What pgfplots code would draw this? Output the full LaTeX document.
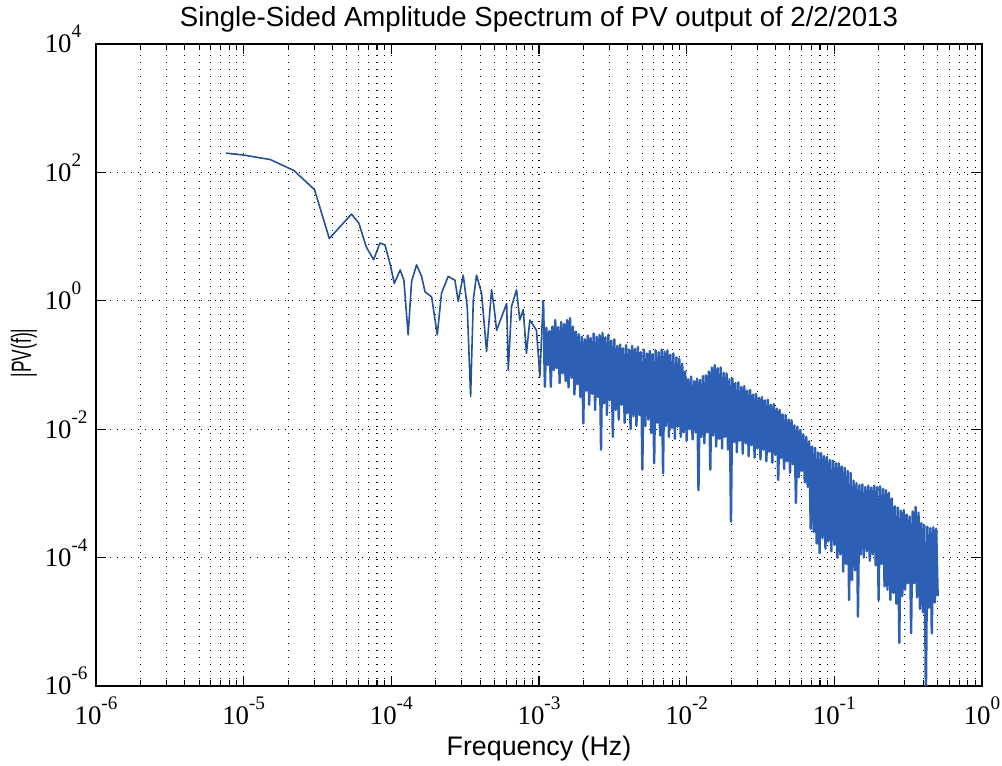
\documentclass[border=0pt]{standalone}
\usepackage{fontspec}
\setmainfont{Liberation Serif}
\newfontfamily\sansf{Liberation Sans}
\usepackage{graphicx}
\usepackage{pgfplots}
\pgfplotsset{compat=1.18}
\definecolor{specblue}{RGB}{45,95,180}
\newcommand{\xe}[1]{10\raisebox{7.5pt}{\fontsize{9.6}{10}\selectfont #1}}
\newcommand{\ye}[1]{10\rlap{\raisebox{7.5pt}{\fontsize{9.6}{10}\selectfont #1}}}
\pgfplotstableread{
lx ly
-5.12 2.30
-5.00 2.27
-4.82 2.20
-4.66 2.03
-4.52 1.73
-4.42 0.97
-4.27 1.35
-4.22 1.21
-4.17 0.84
-4.12 0.64
-4.077 0.90
-4.043 0.87
-4.009 0.58
-3.98 0.27
-3.94 0.48
-3.915 0.32
-3.886 -0.53
-3.863 0.30
-3.829 0.56
-3.795 0.38
-3.772 0.14
-3.727 0.06
-3.689 -0.53
-3.66 0.12
-3.615 0.38
-3.569 0.32
-3.547 -0.01
-3.513 0.40
-3.486 -0.09
-3.463 -1.49
-3.445 0.01
-3.423 0.40
-3.389 0.12
-3.355 -0.79
-3.321 0.17
-3.305 -0.09
-3.287 -0.46
-3.253 -0.25
-3.219 -0.04
-3.208 -1.08
-3.186 -0.09
-3.152 0.17
-3.13 -0.30
-3.107 -0.14
-3.085 -0.82
-3.062 -0.30
-3.017 -0.46
-2.994 -1.18
-2.972 0.01
}\spectrumA
\pgfplotstableread{
lx ly
-2.972 0.01
-2.96 -1.34
-2.95 -0.42
-2.94 -1.00
-2.93 -0.47
-2.92 -1.34
-2.91 -0.40
-2.90 -1.08
-2.89 -0.30
-2.88 -1.05
-2.87 -0.41
-2.86 -1.28
-2.85 -0.33
-2.84 -1.13
-2.83 -0.36
-2.82 -1.25
-2.81 -0.30
-2.80 -1.35
-2.79 -0.27
-2.78 -1.20
-2.77 -0.40
-2.76 -1.46
-2.75 -0.48
-2.74 -1.30
-2.73 -0.52
-2.72 -1.50
-2.71 -0.56
-2.70 -1.91
-2.69 -0.60
-2.68 -1.40
-2.67 -0.54
-2.66 -1.62
-2.65 -0.58
-2.64 -1.45
-2.63 -0.51
-2.62 -1.70
-2.61 -0.56
-2.60 -1.50
-2.59 -0.53
-2.58 -2.32
-2.57 -0.50
-2.56 -1.60
-2.55 -0.57
-2.54 -1.78
-2.53 -0.53
-2.52 -1.55
-2.51 -0.62
-2.50 -2.12
-2.49 -0.60
-2.48 -1.70
-2.47 -0.70
-2.46 -1.85
-2.45 -0.68
-2.44 -1.62
-2.43 -0.74
-2.42 -1.90
-2.41 -0.69
-2.40 -1.75
-2.39 -0.76
-2.38 -2.00
-2.37 -0.70
-2.36 -1.80
-2.35 -0.75
-2.34 -1.95
-2.33 -0.72
-2.32 -1.78
-2.31 -0.80
-2.30 -2.63
-2.29 -0.76
-2.28 -1.95
-2.27 -0.82
-2.26 -1.85
-2.25 -0.78
-2.24 -2.06
-2.23 -0.83
-2.22 -2.53
-2.21 -0.77
-2.20 -1.90
-2.19 -0.80
-2.18 -2.10
-2.17 -0.76
-2.16 -2.69
-2.15 -0.79
-2.14 -1.95
-2.13 -0.77
-2.12 -2.12
-2.11 -0.84
-2.10 -1.98
-2.09 -0.82
-2.08 -2.15
-2.07 -0.88
-2.06 -1.96
-2.05 -0.90
-2.04 -2.12
-2.03 -0.98
-2.02 -2.05
-2.01 -1.10
-2.00 -2.18
-1.99 -1.22
-1.98 -2.00
-1.97 -1.18
-1.96 -2.16
-1.95 -1.25
-1.94 -2.05
-1.93 -1.21
-1.92 -2.95
-1.91 -1.23
-1.90 -2.12
-1.89 -1.17
-1.88 -2.22
-1.87 -1.16
-1.86 -2.05
-1.85 -1.10
-1.84 -2.63
-1.83 -1.04
-1.82 -2.10
-1.81 -1.00
-1.80 -2.27
-1.79 -1.05
-1.78 -2.15
-1.77 -1.04
-1.76 -2.30
-1.75 -1.12
-1.74 -2.12
-1.73 -1.13
-1.72 -2.32
-1.71 -1.22
-1.70 -3.44
-1.69 -1.21
-1.68 -2.20
-1.67 -1.28
-1.66 -2.36
-1.65 -1.27
-1.64 -2.18
-1.63 -1.34
-1.62 -2.38
-1.61 -1.33
-1.60 -2.22
-1.59 -1.40
-1.58 -2.42
-1.57 -1.39
-1.56 -2.25
-1.55 -1.46
-1.54 -2.44
-1.53 -1.45
-1.52 -2.30
-1.51 -1.51
-1.50 -2.47
-1.49 -1.50
-1.48 -2.32
-1.47 -1.55
-1.46 -2.50
-1.45 -1.54
-1.44 -2.35
-1.43 -1.62
-1.42 -2.52
-1.41 -1.61
-1.40 -2.40
-1.39 -1.68
-1.38 -2.79
-1.37 -1.70
-1.36 -2.45
-1.35 -1.77
-1.34 -2.62
-1.33 -1.78
-1.32 -2.50
-1.31 -1.85
-1.30 -2.68
-1.29 -1.86
-1.28 -2.55
-1.27 -1.94
-1.26 -3.15
-1.25 -1.96
-1.24 -2.75
-1.23 -2.01
-1.22 -2.65
-1.21 -2.08
-1.20 -2.83
-1.19 -2.12
-1.18 -2.90
-1.17 -2.19
-1.16 -3.55
-1.15 -2.27
-1.14 -3.60
-1.13 -2.29
-1.12 -3.78
-1.11 -2.36
-1.10 -3.93
-1.09 -2.37
-1.08 -3.70
-1.07 -2.42
-1.06 -3.86
-1.05 -2.43
-1.04 -3.75
-1.03 -2.48
-1.02 -3.90
-1.01 -2.49
-1.00 -3.80
-0.99 -2.53
-0.98 -4.00
-0.97 -2.53
-0.96 -3.95
-0.95 -2.58
-0.94 -4.22
-0.93 -2.60
-0.92 -4.10
-0.91 -2.65
-0.90 -4.66
-0.89 -2.68
-0.88 -4.35
-0.87 -2.80
-0.86 -4.20
-0.85 -2.84
-0.84 -4.92
-0.83 -2.87
-0.82 -3.95
-0.81 -2.86
-0.80 -4.00
-0.79 -2.90
-0.78 -3.90
-0.77 -2.88
-0.76 -4.05
-0.75 -2.91
-0.74 -3.95
-0.73 -2.88
-0.72 -4.12
-0.71 -2.90
-0.70 -4.66
-0.69 -2.89
-0.68 -4.10
-0.67 -2.93
-0.66 -4.45
-0.65 -2.95
-0.64 -4.50
-0.63 -2.99
-0.62 -4.66
-0.61 -3.08
-0.60 -4.55
-0.59 -3.20
-0.58 -4.72
-0.57 -3.22
-0.56 -5.33
-0.55 -3.27
-0.54 -4.60
-0.53 -3.26
-0.52 -4.50
-0.51 -3.33
-0.50 -4.40
-0.49 -3.36
-0.48 -5.18
-0.47 -3.28
-0.46 -4.40
-0.45 -3.21
-0.44 -4.62
-0.43 -3.30
-0.42 -4.80
-0.41 -3.46
-0.40 -4.85
-0.39 -3.50
-0.38 -6.20
-0.37 -3.52
-0.36 -4.78
-0.35 -3.54
-0.34 -5.18
-0.33 -3.53
-0.32 -4.70
-0.31 -3.55
-0.30 -4.60
}\spectrumB
\begin{document}
\begin{tikzpicture}
\path[use as bounding box] (0,0) rectangle (501pt,383pt);
\begin{axis}[
  at={(48pt,40pt)}, anchor=south west,
  width=443pt, height=321pt, scale only axis,
  xmin=-6, xmax=0, ymin=-6, ymax=4,
  xtick={-6,-5,-4,-3,-2,-1,0},
  xticklabels={\xe{-6},\xe{-5},\xe{-4},\xe{-3},\xe{-2},\xe{-1},\xe{0}},
  minor xtick={-5.699,-5.523,-5.398,-5.301,-5.222,-5.155,-5.097,-5.046,
    -4.699,-4.523,-4.398,-4.301,-4.222,-4.155,-4.097,-4.046,
    -3.699,-3.523,-3.398,-3.301,-3.222,-3.155,-3.097,-3.046,
    -2.699,-2.523,-2.398,-2.301,-2.222,-2.155,-2.097,-2.046,
    -1.699,-1.523,-1.398,-1.301,-1.222,-1.155,-1.097,-1.046,
    -0.699,-0.523,-0.398,-0.301,-0.222,-0.155,-0.097,-0.046},
  ytick={-6,-4,-2,0,2,4},
  yticklabels={\ye{-6},\ye{-4},\ye{-2},\ye{0},\ye{2},\ye{4}},
  tick align=inside, major tick length=5pt, minor tick length=3pt,
  xmajorgrids, xminorgrids, ymajorgrids,
  grid style={black, line width=0.55pt, dash pattern=on 0.6pt off 2.9pt},
  major grid style={black, line width=0.55pt, dash pattern=on 0.6pt off 2.9pt},
  minor grid style={black, line width=0.55pt, dash pattern=on 0.6pt off 2.9pt},
  axis line style={line width=0.6pt},
  every tick/.style={black, line width=0.6pt},
  tick label style={font=\fontsize{13.4}{14}\selectfont},
  xticklabel style={anchor=base, inner sep=0pt, yshift=-19.5pt},
  yticklabel style={anchor=base east, inner sep=0pt, xshift=-12pt, yshift=-4.5pt},
  every axis title shift=0pt,
  title={Single-Sided Amplitude Spectrum of PV output of 2/2/2013},
  title style={font=\sansf\fontsize{13.8}{15}\selectfont, at={(axis description cs:0.5,1.0265)}, anchor=base},
  xlabel={Frequency (Hz)},
  xlabel style={font=\sansf\fontsize{13.4}{15}\selectfont, at={(axis description cs:0.5,-0.1075)}, anchor=base},
  ylabel={\scalebox{0.62}[1]{|PV(f)|}},
  ylabel style={font=\sansf\fontsize{14}{15}\selectfont, at={(axis description cs:-0.0813,0.5187)}, anchor=center},
]
\addplot[color=specblue!85!black, line width=0.8pt, line join=round, mark=none] table[x=lx, y=ly] {\spectrumA};
\addplot[color=specblue, line width=1.2pt, line join=round, mark=none] table[x=lx, y=ly] {\spectrumB};
\end{axis}
\end{tikzpicture}
\end{document}
